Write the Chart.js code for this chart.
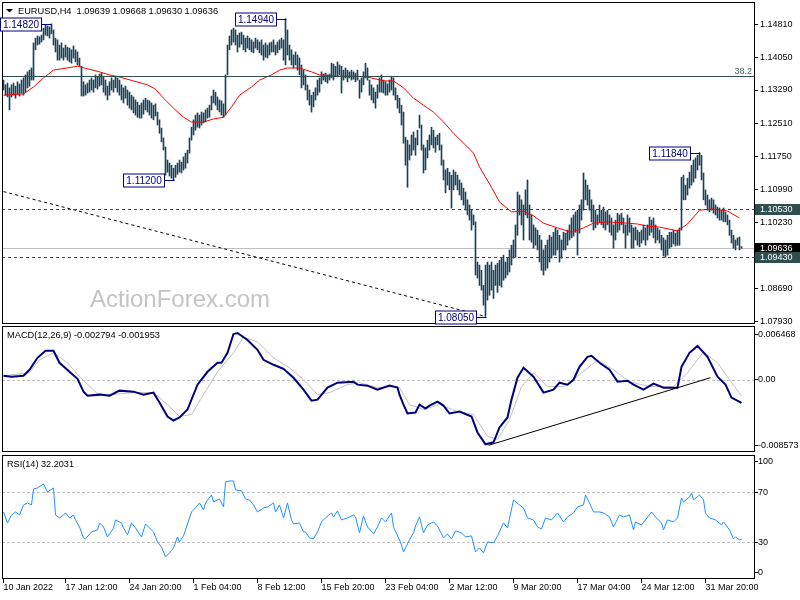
<!DOCTYPE html>
<html><head><meta charset="utf-8">
<script src="https://cdn.jsdelivr.net/npm/chart.js@4"></script>
<style>
html,body{margin:0;padding:0;background:#fff;width:800px;height:600px;overflow:hidden}
canvas{position:absolute;left:0}
#c1{top:0}#c2{top:326px}#c3{top:455px}
</style></head><body>
<canvas id="c1" width="800" height="326"></canvas>
<canvas id="c2" width="800" height="129"></canvas>
<canvas id="c3" width="800" height="145"></canvas>
<script>
// ---------------- DATA ----------------
const priceHigh = [
1.1352,1.1341,1.1345,1.1334,1.1341,1.1345,1.1338,1.1348,1.1343,1.1352,
1.1357,1.1364,1.1371,1.1375,1.1380,1.1438,1.1449,1.1454,1.1452,1.1456,
1.1472,1.1479,1.1477,1.1475,1.1482,1.1468,1.1449,1.1445,1.1433,1.1438,
1.1426,1.1433,1.1428,1.1426,1.1422,1.1431,1.1422,1.1417,1.1403,1.1384,
1.1348,1.1341,1.1345,1.1352,1.1357,1.1352,1.1364,1.1359,1.1366,1.1368,
1.1361,1.1352,1.1338,1.1348,1.1357,1.1352,1.1361,1.1357,1.1352,1.1341,
1.1334,1.1338,1.1329,1.1324,1.1317,1.1313,1.1306,1.1301,1.1294,1.1299,
1.1306,1.1310,1.1306,1.1304,1.1299,1.1294,1.1297,1.1278,1.1260,1.1241,
1.1218,1.1197,1.1167,1.1160,1.1155,1.1148,1.1155,1.1160,1.1167,1.1162,
1.1174,1.1183,1.1190,1.1218,1.1243,1.1260,1.1271,1.1276,1.1271,1.1278,
1.1276,1.1283,1.1287,1.1294,1.1315,1.1329,1.1324,1.1313,1.1306,1.1304,
1.1297,1.1364,1.1433,1.1454,1.1468,1.1472,1.1468,1.1456,1.1461,1.1463,
1.1456,1.1449,1.1454,1.1449,1.1445,1.1440,1.1449,1.1445,1.1440,1.1445,
1.1433,1.1438,1.1433,1.1438,1.1440,1.1445,1.1433,1.1440,1.1445,1.1449,
1.1445,1.1494,1.1468,1.1433,1.1422,1.1410,1.1417,1.1410,1.1403,1.1387,
1.1375,1.1364,1.1341,1.1329,1.1317,1.1324,1.1334,1.1352,1.1357,1.1371,
1.1366,1.1368,1.1364,1.1366,1.1391,1.1389,1.1384,1.1394,1.1387,1.1384,
1.1375,1.1380,1.1375,1.1371,1.1375,1.1371,1.1368,1.1375,1.1352,1.1357,
1.1371,1.1391,1.1380,1.1352,1.1341,1.1334,1.1324,1.1341,1.1357,1.1364,
1.1352,1.1348,1.1343,1.1352,1.1361,1.1357,1.1334,1.1317,1.1310,1.1294,
1.1278,1.1220,1.1213,1.1202,1.1225,1.1232,1.1218,1.1236,1.1271,1.1248,
1.1202,1.1195,1.1213,1.1225,1.1243,1.1236,1.1220,1.1225,1.1229,1.1202,
1.1167,1.1144,1.1148,1.1139,1.1132,1.1144,1.1139,1.1132,1.1121,1.1114,
1.1102,1.1093,1.1075,1.1063,1.1051,1.1040,1.1024,1.0931,1.0924,1.0912,
1.0877,1.0924,1.0931,1.0924,1.0931,1.0912,1.0924,1.0928,1.0935,1.0940,
1.0947,1.0931,1.0940,1.0959,1.0970,1.0982,1.1017,1.1093,1.1086,1.1075,
1.1063,1.1098,1.1121,1.1063,1.1040,1.1017,1.1010,1.1005,1.0993,1.0982,
1.0959,1.0970,1.0982,1.0993,1.0989,1.1000,1.1010,1.1005,1.0993,1.0982,
1.1000,1.0998,1.1005,1.1017,1.1033,1.1040,1.1047,1.1051,1.1063,1.1075,
1.1137,1.1121,1.1109,1.1098,1.1075,1.1063,1.1051,1.1040,1.1063,1.1051,
1.1058,1.1047,1.1051,1.1040,1.1033,1.1017,1.1028,1.1044,1.1040,1.1044,
1.1033,1.1017,1.1040,1.1033,1.1017,1.1010,1.1012,1.1005,1.1000,1.1005,
1.1017,1.1010,1.1017,1.1035,1.1028,1.1033,1.1017,1.1010,1.1005,1.0993,
1.0987,1.0982,1.0993,1.1000,1.1000,1.1005,1.0998,1.1005,1.1010,1.1127,
1.1132,1.1109,1.1125,1.1139,1.1155,1.1167,1.1172,1.1178,1.1184,1.1178,
1.1137,1.1098,1.1086,1.1075,1.1079,1.1075,1.1063,1.1058,1.1056,1.1051,
1.1056,1.1047,1.1040,1.1028,1.1005,1.0993,1.0982,1.0987,1.0989,1.09668];
const priceLow = [
1.1329,1.1317,1.1313,1.1283,1.1313,1.1317,1.1310,1.1320,1.1315,1.1322,
1.1317,1.1324,1.1334,1.1338,1.1352,1.1352,1.1422,1.1433,1.1435,1.1440,
1.1445,1.1456,1.1454,1.1449,1.1459,1.1433,1.1417,1.1398,1.1398,1.1403,
1.1398,1.1405,1.1398,1.1394,1.1391,1.1403,1.1394,1.1387,1.1384,1.1315,
1.1315,1.1317,1.1322,1.1324,1.1329,1.1324,1.1334,1.1331,1.1338,1.1341,
1.1324,1.1317,1.1306,1.1317,1.1329,1.1324,1.1334,1.1324,1.1317,1.1306,
1.1299,1.1310,1.1294,1.1287,1.1283,1.1276,1.1271,1.1266,1.1264,1.1264,
1.1273,1.1283,1.1278,1.1271,1.1264,1.1260,1.1269,1.1248,1.1229,1.1209,
1.1190,1.1132,1.1139,1.1130,1.1125,1.1120,1.1127,1.1134,1.1139,1.1137,
1.1144,1.1148,1.1160,1.1183,1.1213,1.1225,1.1236,1.1243,1.1241,1.1248,
1.1253,1.1255,1.1264,1.1266,1.1283,1.1299,1.1294,1.1283,1.1278,1.1271,
1.1266,1.1271,1.1364,1.1422,1.1433,1.1440,1.1433,1.1417,1.1428,1.1435,
1.1422,1.1417,1.1426,1.1422,1.1417,1.1415,1.1426,1.1422,1.1415,1.1410,
1.1398,1.1405,1.1403,1.1410,1.1417,1.1417,1.1410,1.1415,1.1422,1.1426,
1.1398,1.1387,1.1410,1.1398,1.1387,1.1380,1.1387,1.1375,1.1364,1.1334,
1.1341,1.1329,1.1306,1.1294,1.1278,1.1290,1.1306,1.1317,1.1324,1.1343,
1.1352,1.1348,1.1345,1.1352,1.1357,1.1352,1.1361,1.1359,1.1364,1.1322,
1.1352,1.1357,1.1348,1.1357,1.1352,1.1354,1.1348,1.1352,1.1310,1.1324,
1.1341,1.1357,1.1352,1.1317,1.1306,1.1299,1.1287,1.1310,1.1324,1.1324,
1.1322,1.1317,1.1317,1.1324,1.1329,1.1317,1.1306,1.1287,1.1276,1.1248,
1.1206,1.1155,1.1104,1.1167,1.1178,1.1190,1.1178,1.1202,1.1241,1.1190,
1.1137,1.1144,1.1172,1.1190,1.1202,1.1195,1.1185,1.1202,1.1190,1.1155,
1.1121,1.1091,1.1109,1.1098,1.1056,1.1098,1.1109,1.1098,1.1086,1.1075,
1.1063,1.1051,1.1040,1.1028,1.1005,1.1017,1.0901,1.0894,1.0877,1.0866,
1.0831,1.0805,1.0843,1.0854,1.0866,1.0847,1.0877,1.0861,1.0877,1.0873,
1.0889,1.0894,1.0901,1.0908,1.0924,1.0940,1.0942,1.0993,1.1040,1.1017,
1.0982,1.1040,1.1033,1.0982,1.0977,1.0963,1.0970,1.0959,1.0931,1.0912,
1.0901,1.0912,1.0917,1.0931,1.0940,1.0947,1.0947,1.0959,1.0931,1.0940,
1.0959,1.0959,1.0970,1.0982,1.0987,1.0991,1.1000,1.0947,1.0998,1.1028,
1.1051,1.1075,1.1063,1.1051,1.1024,1.1005,1.1010,1.1017,1.1024,1.1017,
1.1010,1.1005,1.1017,1.1000,1.0993,1.0963,1.0982,1.1000,1.1005,1.1017,
1.0998,1.0963,1.0993,1.1000,1.0963,1.0963,1.0982,1.0970,1.0966,1.0975,
1.0982,1.0970,1.0982,1.0993,1.1000,1.0987,1.0975,1.0982,1.0975,1.0959,
1.0945,1.0942,1.0947,1.0963,1.0966,1.0973,1.0968,1.0970,1.0970,1.1005,
1.1075,1.1075,1.1086,1.1102,1.1109,1.1116,1.1125,1.1144,1.1155,1.1121,
1.1075,1.1063,1.1051,1.1047,1.1051,1.1044,1.1040,1.1033,1.1028,1.1028,
1.1024,1.1024,1.1017,1.0993,1.0975,1.0963,1.0959,1.0970,1.0959,1.09630];

// moving average [barIndex, price]
const maLine = [[0,1.1317],[10,1.1320],[15,1.1336],[20,1.1357],[25,1.1375],[32,1.1380],[37,1.1384],[42,1.1378],[48,1.1371],[53,1.1364],[58,1.1359],[65,1.1350],[72,1.1341],[76,1.1331],[80,1.1310],[85,1.1287],[90,1.1266],[94,1.1255],[100,1.1255],[105,1.1262],[110,1.1266],[114,1.1290],[118,1.1317],[124,1.1336],[128,1.1352],[134,1.1364],[138,1.1375],[142,1.1380],[148,1.1380],[154,1.1371],[158,1.1364],[167,1.1361],[177,1.1361],[184,1.1357],[190,1.1350],[195,1.1350],[200,1.1334],[205,1.1310],[210,1.1294],[215,1.1278],[220,1.1255],[225,1.1229],[232,1.1197],[235,1.1183],[238,1.1151],[244,1.1104],[248,1.1070],[254,1.1047],[260,1.1049],[265,1.1038],[270,1.1021],[277,1.1010],[284,1.1000],[290,1.1010],[295,1.1021],[302,1.1024],[312,1.1021],[317,1.1019],[322,1.1014],[328,1.1012],[337,1.1003],[342,1.1019],[348,1.1051],[355,1.1054],[362,1.1049],[368,1.1033]];
const priceTrend = [[0,1.1094],[241,1.0805]];
const priceTicks = [1.14810,1.14050,1.13290,1.12510,1.11750,1.10990,1.10230,1.08690,1.07930];
const fibLevel = 1.13607, fibText = '38.2';
const resLevel = 1.10530, supLevel = 1.09430, bidLevel = 1.09636;
const hiloMarks = [[24,1.14820],[85,1.11200],[141,1.14940],[241,1.08050],[348,1.11840]];
const lastOHLC = [1.09639,1.09668,1.09630,1.09636];

const macdMain = [[0,0.00048],[4,0.00036],[10,0.00048],[13,0.00120],[17,0.00264],[21,0.00348],[25,0.00348],[28,0.00204],[33,0.00096],[37,0.00012],[40,-0.00143],[42,-0.00191],[48,-0.00179],[53,-0.00191],[58,-0.00131],[65,-0.00143],[70,-0.00179],[75,-0.00155],[78,-0.00275],[82,-0.00442],[85,-0.00490],[88,-0.00454],[92,-0.00358],[97,-0.00059],[102,0.00096],[107,0.00204],[109,0.00204],[112,0.00324],[115,0.00551],[117,0.00563],[122,0.00479],[127,0.00360],[130,0.00240],[135,0.00180],[140,0.00132],[145,0.00024],[150,-0.00119],[154,-0.00251],[157,-0.00239],[162,-0.00095],[167,-0.00035],[175,-0.00023],[177,-0.00059],[182,-0.00071],[187,-0.00119],[193,-0.00071],[197,-0.00095],[198,-0.00179],[200,-0.00299],[202,-0.00406],[206,-0.00394],[208,-0.00299],[211,-0.00347],[213,-0.00311],[217,-0.00263],[220,-0.00311],[223,-0.00406],[228,-0.00382],[234,-0.00442],[237,-0.00634],[241,-0.00777],[245,-0.00753],[248,-0.00574],[252,-0.00454],[254,-0.00239],[257,0.00024],[260,0.00144],[265,0.00036],[270,-0.00155],[275,-0.00119],[278,-0.00035],[282,-0.00059],[285,0.00000],[288,0.00156],[292,0.00276],[294,0.00288],[298,0.00204],[303,0.00120],[307,-0.00023],[312,-0.00011],[315,-0.00059],[320,-0.00119],[325,-0.00047],[330,-0.00095],[337,-0.00095],[339,0.00156],[343,0.00324],[347,0.00407],[352,0.00276],[357,0.00036],[361,-0.00059],[364,-0.00215],[369,-0.002794]];
const macdSignal = [[0,0.00048],[13,0.00084],[18,0.00240],[25,0.00324],[32,0.00204],[38,0.00036],[47,-0.00167],[53,-0.00179],[65,-0.00155],[75,-0.00155],[82,-0.00299],[88,-0.00442],[94,-0.00418],[100,-0.00179],[107,0.00096],[115,0.00324],[120,0.00515],[127,0.00455],[135,0.00264],[143,0.00144],[150,0.00000],[157,-0.00179],[163,-0.00155],[172,-0.00059],[178,-0.00035],[187,-0.00095],[195,-0.00083],[198,-0.00095],[203,-0.00299],[210,-0.00358],[218,-0.00299],[227,-0.00382],[235,-0.00418],[242,-0.00682],[247,-0.00717],[253,-0.00478],[259,-0.00083],[265,0.00084],[272,-0.00083],[280,-0.00083],[288,0.00060],[297,0.00240],[305,0.00120],[313,-0.00023],[323,-0.00083],[335,-0.00083],[342,0.00084],[350,0.00336],[357,0.00204],[363,0.00000],[369,-0.001953]];
const macdTrend = [[242.5,-0.00789],[353.5,0.00025]];
const macdTickVals = [0.00550, 0, -0.00789];
const macdTickLabels = ['0.006468','0.00','-0.008573'];

const rsiLine = [[0,54.4],[2,45.6],[4,52],[6,54.4],[8,52],[10,60],[12,61.6],[14,60],[15,72.8],[17,73.6],[20,76.8],[22,70.4],[25,73.6],[26,52],[28,49.6],[30,52],[31,53.6],[33,49.6],[35,52],[36,48],[38,42.4],[40,33.6],[41,32.8],[44,38.4],[47,40],[48,45.6],[50,42.4],[52,34.4],[55,41.6],[56,48],[59,45.6],[60,41.6],[62,36],[64,45.6],[66,41.6],[69,34.4],[71,44.8],[74,40],[75,38.4],[77,30.4],[79,26.4],[81,18.4],[83,21.6],[85,25.6],[87,34.4],[88,30.4],[90,35.2],[91,40],[94,54.4],[96,57.6],[98,61.6],[100,56],[101,61.6],[104,68],[105,62.4],[108,64.8],[110,58.4],[111,78.4],[113,79.2],[115,79.2],[116,72],[119,71.2],[121,64.8],[123,64],[125,60],[127,54.4],[130,57.6],[132,58.4],[135,61.6],[136,54.4],[138,60],[140,49.6],[142,61.6],[144,48],[145,44.8],[148,45.6],[150,38.4],[151,38.4],[153,33.6],[155,32.8],[157,38.4],[159,46.4],[161,49.6],[164,53.6],[165,50.4],[167,55.2],[169,48],[172,49.6],[175,52],[176,50.4],[178,37.6],[180,51.2],[182,42.4],[185,36.8],[187,42.4],[189,49.6],[191,46.4],[194,53.6],[195,42.4],[198,32],[199,28],[200,22.4],[203,32],[205,37.6],[206,43.2],[208,50.4],[210,37.6],[212,44],[215,46.4],[217,43.2],[220,33.6],[222,36.8],[224,32.8],[226,39.2],[229,37.6],[231,34.4],[234,35.2],[236,22.4],[238,25.6],[240,21.6],[242,30.4],[245,29.6],[247,35.2],[250,45.6],[252,41.6],[255,64],[258,60],[260,57.6],[262,49.6],[265,48],[267,42.4],[269,40.8],[271,49.6],[274,48],[277,53.6],[280,46.4],[282,50.4],[285,53.6],[287,58.4],[290,60],[291,68],[293,61.6],[295,54.4],[298,54.4],[300,53.6],[303,50.4],[305,42.4],[308,52],[310,50.4],[313,52],[315,40],[316,46.4],[319,44],[321,48],[324,54.4],[326,50.4],[329,45.6],[330,40],[332,48],[335,46.4],[337,49.6],[339,65.6],[340,62.4],[343,66.4],[344,69.6],[345,64],[348,68],[350,64],[351,53.6],[353,49.6],[356,48],[359,44],[360,46.4],[363,40],[365,32.8],[366,34.4],[368,32],[369,32.2031]];
const rsiTickVals = [94.6, 70, 30, 5.8];
const rsiTickLabels = ['100','70','30','0'];
const rsiLevels = [70, 30];
const macdLast = [-0.002794, -0.001953];
const rsiLast = 32.2031;

const timeTickIdx = [0,31,63,95,127,159,191,223,255,287,319,351];
const timeTickLabels = ['10 Jan 2022','17 Jan 12:00','24 Jan 20:00','1 Feb 04:00','8 Feb 12:00','15 Feb 20:00','23 Feb 04:00','2 Mar 12:00','9 Mar 20:00','17 Mar 04:00','24 Mar 12:00','31 Mar 20:00'];

// ---------------- STYLE / RENDER ----------------
const FONT = '"Liberation Sans", Arial, sans-serif';
Chart.defaults.font.family = FONT;
Chart.defaults.font.size = 9;
Chart.defaults.color = '#000';
const X_MIN = -0.75, X_MAX = 375.25;
const pts = a => a.map(([x, y]) => ({x, y}));
function noPad(s) { s.paddingTop = 0; s.paddingBottom = 0; s.paddingLeft = 0; s.paddingRight = 0; }

function hScaleHidden() {
  return {type:'linear', min:X_MIN, max:X_MAX, offset:false, display:false, grid:{offset:false}};
}
function rightAxis(min, max, vals, fmt, pad) {
  return {
    type:'linear', position:'right', min, max,
    afterFit(s){ s.width = 46; noPad(s); },
    afterBuildTicks(s){ s.ticks = vals.map(v => ({value:v})); },
    ticks:{ callback: fmt, color:'#000', font:{size:9, family:FONT}, padding:pad, autoSkip:false, maxRotation:0 },
    grid:{ drawOnChartArea:false, drawTicks:true, tickLength:4, color:'#000' },
    border:{ display:false }
  };
}
function hline(ctx, a, y, color, dash) {
  const yy = Math.round(y) + 0.5;
  ctx.save();
  ctx.strokeStyle = color; ctx.lineWidth = 1; ctx.setLineDash(dash || []);
  ctx.beginPath(); ctx.moveTo(a.left, yy); ctx.lineTo(a.right, yy); ctx.stroke();
  ctx.restore();
}
function frame(ctx, a) {
  ctx.save();
  ctx.strokeStyle = '#000'; ctx.lineWidth = 1;
  ctx.strokeRect(a.left + 0.5, a.top + 0.5, a.right - a.left, a.bottom - a.top);
  ctx.restore();
}
function axisBox(ctx, y, text, fill) {
  const yy = Math.round(y);
  ctx.save();
  ctx.fillStyle = fill; ctx.fillRect(755, yy - 5, 45, 11);
  ctx.fillStyle = '#fff'; ctx.font = '9px ' + FONT; ctx.textBaseline = 'middle'; ctx.textAlign = 'left';
  ctx.fillText(text, 760, yy + 0.5);
  ctx.restore();
}
// draw a caption text fitted to the width it has in the reference
function caption(ctx, text, x, y, width) {
  ctx.save();
  ctx.font = '9px ' + FONT;
  const w = ctx.measureText(text).width;
  const size = Math.max(8, Math.min(11, 9 * width / w));
  ctx.font = size.toFixed(2) + 'px ' + FONT;
  ctx.fillStyle = '#000'; ctx.textBaseline = 'alphabetic'; ctx.textAlign = 'left';
  ctx.fillText(text, x, y);
  ctx.restore();
}

const mainDecor = {
  id:'mainDecor',
  beforeDatasetsDraw(chart) {
    const {ctx, chartArea:a, scales:{y}} = chart;
    ctx.save();
    ctx.font = '24px ' + FONT; ctx.fillStyle = '#c4c4c4';
    ctx.textAlign = 'left'; ctx.textBaseline = 'alphabetic';
    ctx.fillText('ActionForex.com', 90, 307);
    ctx.restore();
    hline(ctx, a, y.getPixelForValue(bidLevel), '#c0c0c0');
  },
  afterDatasetsDraw(chart) {
    const {ctx, chartArea:a, scales:{y}} = chart;
    const fy = y.getPixelForValue(fibLevel);
    hline(ctx, a, fy, '#2f4f4f');
    hline(ctx, a, y.getPixelForValue(resLevel), '#2f4f4f', [3,3]);
    hline(ctx, a, y.getPixelForValue(supLevel), '#2f4f4f', [3,3]);
    ctx.save();
    ctx.font = '9px ' + FONT; ctx.fillStyle = '#4a6464'; ctx.textAlign = 'right'; ctx.textBaseline = 'alphabetic';
    ctx.fillText(fibText, a.right - 2, Math.round(fy) - 2);
    ctx.restore();
  },
  afterDraw(chart) {
    const {ctx, chartArea:a, scales:{x, y}} = chart;
    frame(ctx, a);
    axisBox(ctx, y.getPixelForValue(resLevel), resLevel.toFixed(5), '#2f4f4f');
    axisBox(ctx, y.getPixelForValue(bidLevel), bidLevel.toFixed(5), '#000');
    axisBox(ctx, y.getPixelForValue(supLevel), supLevel.toFixed(5), '#2f4f4f');
    ctx.save();
    ctx.font = '10px ' + FONT; ctx.textBaseline = 'middle'; ctx.textAlign = 'center';
    hiloMarks.forEach(([i, p]) => {
      const bx = x.getPixelForValue(i), py = Math.round(y.getPixelForValue(p)) + 0.5;
      const r = Math.round(bx - 10) + 0.5, w = 41, h = 13;
      ctx.fillStyle = '#fff'; ctx.fillRect(r - w, py - 6.5, w, h);
      ctx.strokeStyle = '#000080'; ctx.lineWidth = 1;
      ctx.strokeRect(r - w, py - 6.5, w, h);
      ctx.beginPath(); ctx.moveTo(r, py); ctx.lineTo(Math.round(bx) + 0.5, py); ctx.stroke();
      ctx.fillStyle = '#000080';
      ctx.fillText(p.toFixed(5), r - w / 2, py + 0.5);
    });
    ctx.restore();
    ctx.save();
    ctx.fillStyle = '#000';
    ctx.beginPath(); ctx.moveTo(6, 9); ctx.lineTo(13, 9); ctx.lineTo(9.5, 12.5); ctx.closePath(); ctx.fill();
    ctx.restore();
    caption(ctx, 'EURUSD,H4  ' + lastOHLC.map(v => v.toFixed(5)).join(' '), 18, 14, 200);
  }
};

new Chart(document.getElementById('c1'), {
  type:'bar',
  data:{ datasets:[
    {type:'line', data:pts(maLine), borderColor:'#ff0000', borderWidth:1, pointRadius:0, fill:false, tension:0},
    {type:'line', data:pts(priceTrend), borderColor:'#000', borderWidth:1, borderDash:[3,3], pointRadius:0, fill:false},
    {type:'bar', data:priceHigh.map((h, i) => ({x:i, y:[priceLow[i], h]})), backgroundColor:'#19415a', borderWidth:0, barThickness:1, minBarLength:1}
  ]},
  options:{
    responsive:false, animation:false, devicePixelRatio:1,
    layout:{ padding:{left:2, top:2, right:0, bottom:3} },
    plugins:{ legend:{display:false}, tooltip:{enabled:false} },
    scales:{ x:hScaleHidden(), y:rightAxis(1.07900, 1.15326, priceTicks, v => v.toFixed(5), 2) }
  },
  plugins:[mainDecor]
});

const macdDecor = {
  id:'macdDecor',
  beforeDatasetsDraw(chart) {
    const {ctx, chartArea:a, scales:{y}} = chart;
    hline(ctx, a, y.getPixelForValue(0), '#c0c0c0', [3,2]);
  },
  afterDraw(chart) {
    const {ctx, chartArea:a} = chart;
    frame(ctx, a);
    caption(ctx, 'MACD(12,26,9) ' + macdLast[0].toFixed(6) + ' ' + macdLast[1].toFixed(6), 7, 12, 153);
  }
};
new Chart(document.getElementById('c2'), {
  type:'line',
  data:{ datasets:[
    {data:pts(macdTrend), borderColor:'#000', borderWidth:1, pointRadius:0},
    {data:pts(macdMain), borderColor:'#000080', borderWidth:2, pointRadius:0, tension:0},
    {data:pts(macdSignal), borderColor:'#c0c0c0', borderWidth:1, pointRadius:0, tension:0}
  ]},
  options:{
    responsive:false, animation:false, devicePixelRatio:1,
    layout:{ padding:{left:2, top:0, right:0, bottom:4} },
    plugins:{ legend:{display:false}, tooltip:{enabled:false} },
    scales:{ x:hScaleHidden(), y:rightAxis(-0.008573, 0.006468, macdTickVals, (v, i) => macdTickLabels[i], 0) }
  },
  plugins:[macdDecor]
});

const rsiDecor = {
  id:'rsiDecor',
  beforeDatasetsDraw(chart) {
    const {ctx, chartArea:a, scales:{y}} = chart;
    rsiLevels.forEach(l => hline(ctx, a, y.getPixelForValue(l), '#c0c0c0', [3,2]));
  },
  afterDraw(chart) {
    const {ctx, chartArea:a} = chart;
    frame(ctx, a);
    caption(ctx, 'RSI(14) ' + rsiLast.toFixed(4), 7, 12, 67);
  }
};
new Chart(document.getElementById('c3'), {
  type:'line',
  data:{ datasets:[
    {data:pts(rsiLine), borderColor:'#1e90ff', borderWidth:1, pointRadius:0, tension:0}
  ]},
  options:{
    responsive:false, animation:false, devicePixelRatio:1,
    layout:{ padding:{left:2, top:0, right:0, bottom:0} },
    plugins:{ legend:{display:false}, tooltip:{enabled:false} },
    scales:{
      x:{ type:'linear', min:X_MIN, max:X_MAX, offset:false, position:'bottom',
        afterFit(s){ s.height = 22; noPad(s); },
        afterBuildTicks(s){ s.ticks = timeTickIdx.map(v => ({value:v})); },
        ticks:{ autoSkip:false, maxRotation:0, minRotation:0, align:'start', padding:-1,
          callback:(v, i) => timeTickLabels[i], color:'#000', font:{size:9, family:FONT} },
        grid:{ drawOnChartArea:false, drawTicks:true, tickLength:5, color:'#000', offset:false },
        border:{ display:false }
      },
      y: rightAxis(1.5, 100, rsiTickVals, (v, i) => rsiTickLabels[i], 0)
    }
  },
  plugins:[rsiDecor]
});
</script>
</body></html>
